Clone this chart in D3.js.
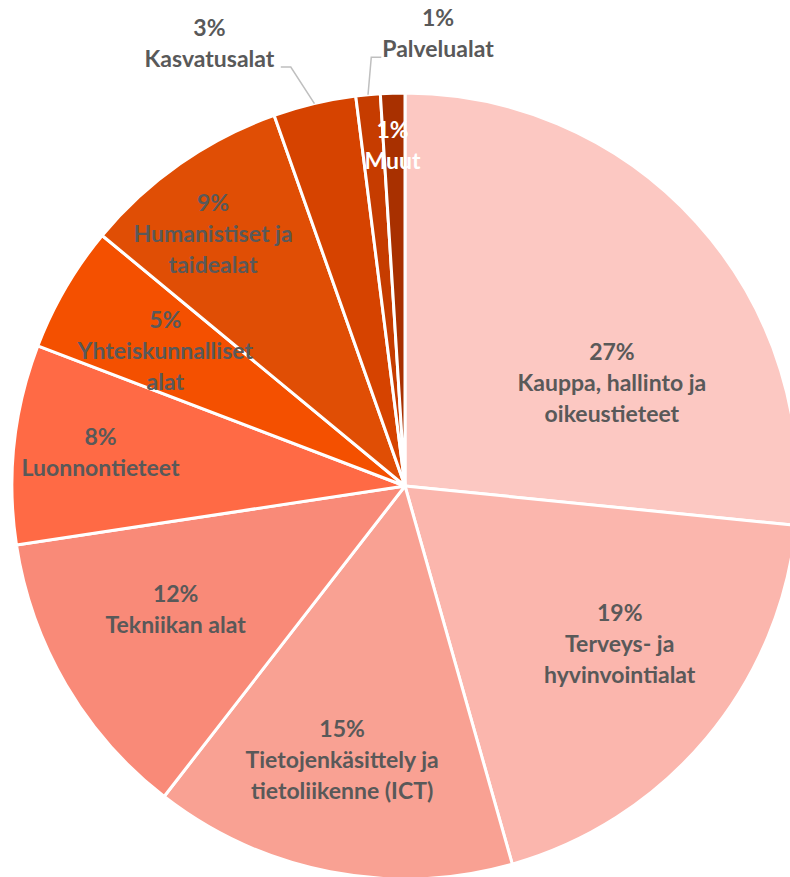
<!DOCTYPE html>
<html>
<head>
<meta charset="utf-8">
<script src="https://cdn.jsdelivr.net/npm/d3@7"></script>
<style>
  html, body { margin: 0; padding: 0; background: #fff; }
  svg { display: block; }
  text { font-family: Lato, "Open Sans", sans-serif; font-weight: 700; }
</style>
</head>
<body>
<svg id="chart" width="790" height="877"></svg>
<script>
// ---- data ----
const categories = [
  "Kauppa, hallinto ja\noikeustieteet",
  "Terveys- ja\nhyvinvointialat",
  "Tietojenkäsittely ja\ntietoliikenne (ICT)",
  "Tekniikan alat",
  "Luonnontieteet",
  "Yhteiskunnalliset\nalat",
  "Humanistiset ja\ntaidealat",
  "Kasvatusalat",
  "Palvelualat",
  "Muut"
];
const values = [26.6, 19.0, 14.9, 12.1, 8.2, 5.2, 8.6, 3.4, 1.0, 1.0];
const colors = ["#fcc8c2", "#fbb6ad", "#f9a193", "#f98a78", "#ff6a45",
                "#f45000", "#e04e05", "#d64300", "#c63c00", "#a83000"];

// ---- layout ----
const W = 790, H = 877;
const cx = 405, cy = 486, R = 393;
const lineH = 31;
const textColor = "#595959";
// label nudges relative to the arc centroid (inside labels at 0.6R, outside at R)
const labelLayout = {
  "Kauppa, hallinto ja\noikeustieteet": {r: 0.6, dx: 32, dy: 54},
  "Terveys- ja\nhyvinvointialat": {r: 0.6, dx: 34, dy: 6},
  "Tietojenkäsittely ja\ntietoliikenne (ICT)": {r: 0.6, dx: -18, dy: 42},
  "Tekniikan alat": {r: 0.6, dx: -26, dy: 3},
  "Luonnontieteet": {r: 0.6, dx: -70, dy: -9},
  "Yhteiskunnalliset\nalat": {r: 0.6, dx: -36, dy: -17},
  "Humanistiset ja\ntaidealat": {r: 0.6, dx: -57, dy: -60},
  "Kasvatusalat": {r: 1.0, dx: -105, dy: -61, outside: "left"},
  "Palvelualat": {r: 1.0, dx: 70, dy: -62, outside: "right"},
  "Muut": {r: 0.6, dx: -5, dy: -106, white: true}
};

const svg = d3.select("#chart");
const g = svg.append("g").attr("transform", `translate(${cx},${cy})`);

const data = categories.map((c, i) => ({cat: c, value: values[i], color: colors[i]}));
const pie = d3.pie().value(d => d.value).sort(null).startAngle(0).endAngle(2 * Math.PI);
const arcs = pie(data);
const arc = d3.arc().innerRadius(0).outerRadius(R);

g.selectAll("path.slice").data(arcs).enter().append("path")
  .attr("class", "slice")
  .attr("d", arc)
  .attr("fill", d => d.data.color)
  .attr("stroke", "#fff")
  .attr("stroke-width", 3)
  .attr("stroke-linejoin", "round");

const total = d3.sum(values);
arcs.forEach(a => {
  const L = labelLayout[a.data.cat];
  const rr = R * L.r;
  const anchor = d3.arc().innerRadius(rr).outerRadius(rr).centroid(a);
  const tx = anchor[0] + L.dx, ty = anchor[1] + L.dy;
  const lines = [Math.round(a.data.value / total * 100) + "%"].concat(a.data.cat.split("\n"));
  const n = lines.length;
  const t = g.append("text")
    .attr("text-anchor", "middle")
    .attr("font-size", 23)
    .attr("fill", L.white ? "#ffffff" : textColor);
  lines.forEach((s, i) => {
    t.append("tspan")
      .attr("x", tx)
      .attr("y", ty + (i - (n - 1) / 2) * lineH)
      .attr("dominant-baseline", "central")
      .text(s);
  });
  if (L.outside) {
    const bb = t.node().getBBox();
    const ly = ty + ((n - 1) - (n - 1) / 2) * lineH + 9;
    let x0, x1;
    if (L.outside === "left") { x0 = bb.x + bb.width + 6; x1 = x0 + 10; }
    else { x0 = bb.x - 1; x1 = x0 - 10; }
    g.append("polyline")
      .attr("points", [[x0, ly], [x1, ly], anchor].map(p => p.join(",")).join(" "))
      .attr("fill", "none")
      .attr("stroke", "#bfbfbf")
      .attr("stroke-width", 1.5);
  }
});
</script>
</body>
</html>
